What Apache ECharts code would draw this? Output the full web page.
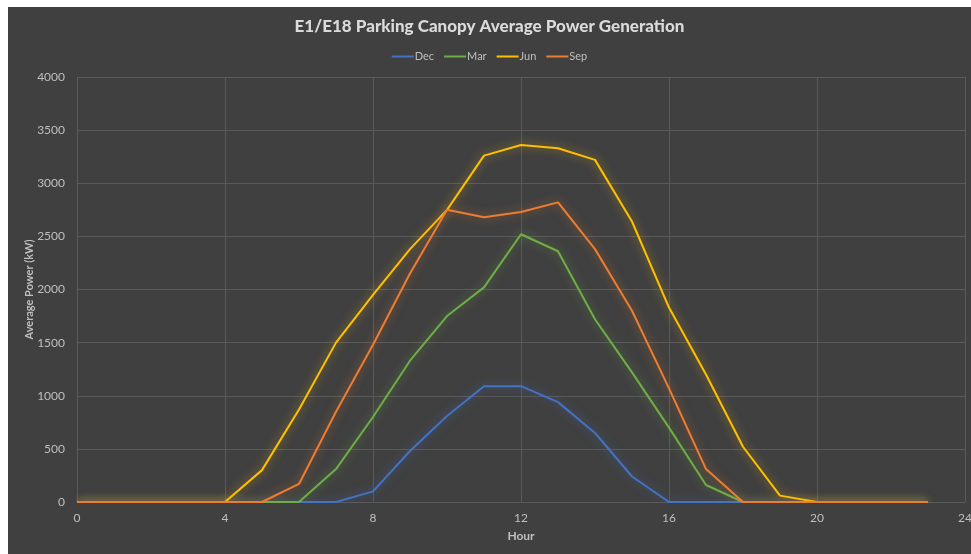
<!DOCTYPE html>
<html>
<head>
<meta charset="utf-8">
<script src="https://cdn.jsdelivr.net/npm/echarts@6/dist/echarts.min.js"></script>
<style>
  html, body { margin: 0; padding: 0; background: #ffffff; }
  #chart { position: absolute; left: 8px; top: 7px; width: 963px; height: 547px; background: #404040; }
</style>
</head>
<body>
<div id="chart"></div>
<script>
  // hours 0..23
  var hours = [0,1,2,3,4,5,6,7,8,9,10,11,12,13,14,15,16,17,18,19,20,21,22,23];
  var dec = [0,0,0,0,0,0,0,0,100,480,810,1090,1090,940,650,240,0,0,0,0,0,0,0,0];
  var mar = [0,0,0,0,0,0,0,310,800,1330,1750,2020,2520,2360,1720,1220,700,160,0,0,0,0,0,0];
  var jun = [0,0,0,0,0,300,870,1500,1950,2380,2750,3260,3360,3330,3220,2640,1830,1200,520,60,0,0,0,0];
  var sep = [0,0,0,0,0,0,170,850,1480,2150,2750,2680,2730,2820,2380,1800,1070,310,0,0,0,0,0,0];

  var names = ['Dec', 'Mar', 'Jun', 'Sep'];
  var colors = ['#4472c4', '#70ad47', '#ffc000', '#ed7d31'];
  var glows = ['rgba(68,114,196,0.6)', 'rgba(112,173,71,0.6)', 'rgba(255,192,0,0.6)', 'rgba(237,125,49,0.6)'];
  var values = [dec, mar, jun, sep];

  var chart = echarts.init(document.getElementById('chart'));
  var series = [];
  for (var i = 0; i < names.length; i++) {
    series.push({
      name: names[i],
      type: 'line',
      data: hours.map(function (h, k) { return [h, values[i][k]]; }),
      showSymbol: false,
      itemStyle: { color: colors[i] },
      lineStyle: { width: 2, color: colors[i], shadowBlur: 10, shadowColor: glows[i] },
      z: 2 + i
    });
  }

  var option = {
    animation: false,
    textStyle: { fontFamily: 'Lato' },
    title: {
      text: 'E1/E18 Parking Canopy Average Power Generation',
      left: 'center',
      top: 6,
      textStyle: { color: '#dadada', fontSize: 17, fontWeight: 900, fontFamily: 'Lato' }
    },
    legend: {
      data: names,
      top: 39,
      left: 'center',
      icon: 'rect',
      itemWidth: 22,
      itemHeight: 2,
      itemGap: 10,
      textStyle: { color: '#bfbfbf', fontSize: 11, padding: [0, 0, 0, -4] }
    },
    grid: { left: 69, right: 6, top: 70, bottom: 52, outerBoundsMode: 'none' },
    xAxis: {
      type: 'value',
      min: 0,
      max: 24,
      interval: 4,
      name: 'Hour',
      nameLocation: 'middle',
      nameGap: 28,
      nameTextStyle: { color: '#bfbfbf', fontSize: 12, fontWeight: 'bold' },
      axisLine: { show: false },
      axisTick: { show: false },
      axisLabel: { color: '#bfbfbf', fontSize: 12, margin: 10 },
      splitLine: { show: true, lineStyle: { color: '#5a5a5a', width: 1 } }
    },
    yAxis: {
      type: 'value',
      min: 0,
      max: 4000,
      interval: 500,
      name: 'Average Power (kW)',
      nameLocation: 'middle',
      nameGap: 42,
      nameMoveOverlap: false,
      nameTextStyle: { color: '#bfbfbf', fontSize: 11, fontWeight: 'bold' },
      axisLine: { show: false },
      axisTick: { show: false },
      axisLabel: { color: '#bfbfbf', fontSize: 12, margin: 12, formatter: function (v) { return String(v); } },
      splitLine: { show: true, lineStyle: { color: '#5a5a5a', width: 1 } }
    },
    series: series
  };
  chart.setOption(option);
</script>
</body>
</html>
